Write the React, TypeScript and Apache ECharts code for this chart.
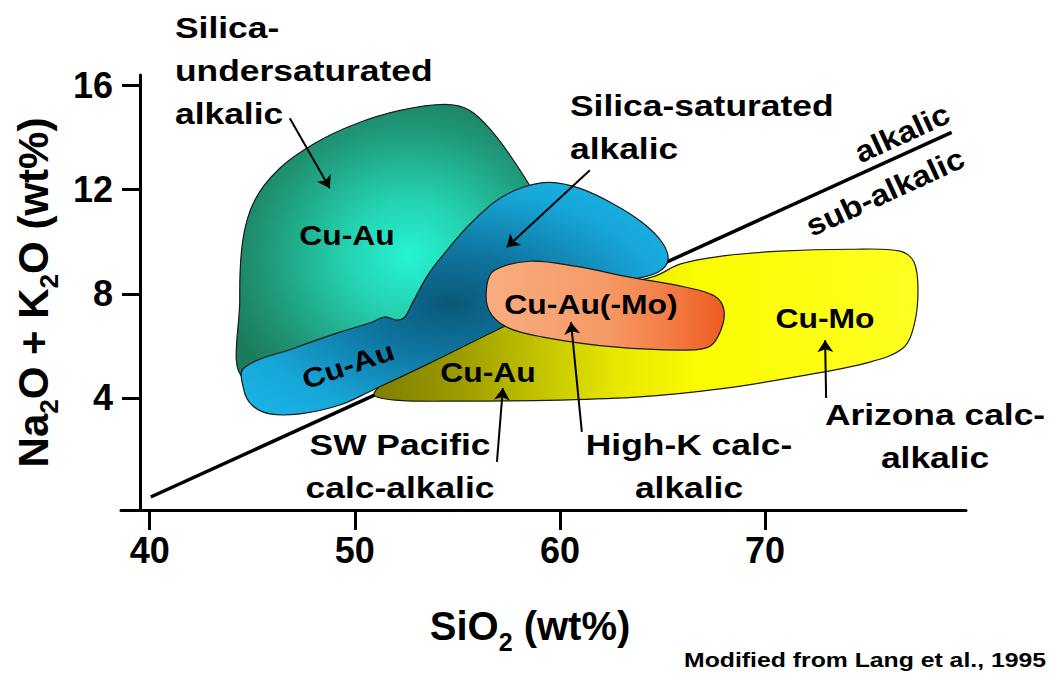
import React, { useEffect, useRef } from "react";
import * as echarts from "echarts";

// ---- axis ticks ----
const xTicks = [40, 50, 60, 70];
const yTicks = [4, 8, 12, 16];

// ---- region outlines (SiO2 wt%, Na2O+K2O wt%) ----
const silicaUndersaturated: number[][] = [
  [44.59, 4.77], [44.39, 7.76], [44.54, 10.06], [45.12, 11.59], [46.34, 12.82],
  [48.05, 13.78], [50.0, 14.51], [52.2, 15.04], [54.39, 15.27], [55.61, 15.04],
  [56.73, 14.2], [57.8, 13.05], [58.78, 11.78], [59.27, 10.63], [57.07, 8.14],
  [53.17, 6.61], [48.78, 5.76],
];
const silicaSaturated: number[][] = [
  [44.59, 5.15], [47.07, 5.92], [49.27, 6.53], [50.83, 6.91], [51.46, 7.11],
  [52.05, 6.99], [52.44, 7.11], [52.83, 7.68], [53.56, 8.72], [54.49, 9.67],
  [55.61, 10.67], [56.93, 11.59], [58.2, 12.09], [59.51, 12.28], [60.98, 12.05],
  [62.54, 11.48], [64.0, 10.75], [64.98, 9.98], [65.27, 9.29], [64.78, 8.83],
  [63.41, 8.52], [60.0, 7.76], [56.93, 6.61], [53.66, 5.34], [50.88, 4.31],
  [49.27, 3.73], [47.32, 3.39], [45.85, 3.39], [44.98, 3.73], [44.59, 4.31],
];
const calcAlkalic: number[][] = [
  [64.63, 8.68], [65.85, 9.14], [67.8, 9.44], [70.73, 9.64], [74.15, 9.71],
  [76.59, 9.64], [77.27, 9.21], [77.46, 8.14], [77.27, 6.8], [76.73, 5.92],
  [75.12, 5.38], [71.71, 4.84], [67.8, 4.35], [63.9, 4.04], [60.0, 3.92],
  [55.12, 3.88], [51.95, 3.92], [50.93, 4.15], [52.2, 5.0], [56.1, 6.42],
  [60.98, 7.95],
];
const highKCalcAlkalic: number[][] = [
  [56.44, 8.33], [56.83, 8.91], [58.54, 9.25], [60.73, 9.06], [63.41, 8.64],
  [66.1, 8.26], [67.56, 7.91], [68.0, 7.37], [67.85, 6.61], [67.32, 5.99],
  [66.15, 5.84], [62.63, 5.96], [59.17, 6.34], [57.41, 6.72], [56.54, 7.37],
];

// alkalic / sub-alkalic divide
const divider: number[][] = [[40.05, 0.2], [79.1, 14.2]];

// annotation arrows [from, to]
const arrows: number[][][] = [
  [[46.83, 14.74], [48.78, 12.05]],
  [[61.46, 12.74], [57.41, 9.79]],
  [[56.93, 1.55], [57.22, 4.38]],
  [[61.07, 2.7], [60.54, 6.91]],
  [[72.98, 4.0], [72.93, 6.22]],
];

const FONT = '"Liberation Sans", Arial, Helvetica, sans-serif';

function region(name: string, pts: number[][], fill: any) {
  return {
    type: "custom",
    name,
    coordinateSystem: "cartesian2d",
    silent: true,
    clip: false,
    data: pts,
    encode: { x: 0, y: 1 },
    z: 3,
    renderItem: (params: any, api: any) => {
      if (params.dataIndex !== 0) return null;
      const points = pts.map((p) => api.coord(p));
      return {
        type: "polygon",
        shape: { points, smooth: 0.35 },
        style: { fill, stroke: "#1a1a1a", lineWidth: 1.2 },
      };
    },
  };
}

function txt(
  text: string,
  x: number,
  y: number,
  opts: { size?: number; align?: string; va?: string; rot?: number; sx?: number; lh?: number } = {}
) {
  const align = opts.align || "left";
  const va = opts.va || "middle";
  return {
    type: "text",
    x,
    y,
    rotation: opts.rot || 0,
    scaleX: opts.sx == null ? 1.18 : opts.sx,
    z: 100,
    silent: true,
    style: {
      text,
      fill: "#000",
      fontSize: opts.size || 30,
      fontWeight: "bold",
      fontFamily: FONT,
      align,
      textAlign: align,
      verticalAlign: va,
      textVerticalAlign: va,
      lineHeight: opts.lh || 43,
    },
  };
}

export default function App() {
  const ref = useRef<HTMLDivElement>(null);
  useEffect(() => {
    if (!ref.current) return;
    const chart = echarts.init(ref.current, undefined, { renderer: "svg" });
    const option: any = {
      animation: false,
      backgroundColor: "#ffffff",
      grid: { left: 121, top: 75, width: 845, height: 435, outerBoundsMode: "none", containLabel: false },
      xAxis: {
        type: "value",
        min: 38.6,
        max: 79.8,
        name: "{a|SiO}{s|2}{a| (wt%)}",
        nameLocation: "middle",
        nameGap: 88,
        nameTextStyle: {
          padding: [0, 27, 0, 0],
          rich: {
            a: { fontSize: 40, fontWeight: "bold", fontFamily: FONT, color: "#000", lineHeight: 56 },
            s: { fontSize: 25, fontWeight: "bold", fontFamily: FONT, color: "#000", lineHeight: 25, verticalAlign: "bottom" },
          },
        },
        axisLine: { onZero: false, lineStyle: { color: "#000", width: 3 } },
        axisTick: { customValues: xTicks, length: 20, lineStyle: { color: "#000", width: 3 } },
        axisLabel: {
          customValues: xTicks,
          margin: 22,
          fontSize: 36,
          fontWeight: "bold",
          fontFamily: FONT,
          color: "#000",
        },
        splitLine: { show: false },
      },
      yAxis: {
        type: "value",
        min: -0.3,
        max: 16.4,
        offset: -19,
        name: "{a|Na}{s|2}{a|O + K}{s|2}{a|O (wt%)}",
        nameLocation: "middle",
        nameRotate: 90,
        nameGap: 78,
        nameTextStyle: {
          rich: {
            a: { fontSize: 42, fontWeight: "bold", fontFamily: FONT, color: "#000", lineHeight: 58 },
            s: { fontSize: 26, fontWeight: "bold", fontFamily: FONT, color: "#000", lineHeight: 26, verticalAlign: "bottom" },
          },
        },
        axisLine: { onZero: false, lineStyle: { color: "#000", width: 3 } },
        axisTick: { customValues: yTicks, length: 18, lineStyle: { color: "#000", width: 3 } },
        axisLabel: {
          customValues: yTicks,
          margin: 27,
          fontSize: 36,
          fontWeight: "bold",
          fontFamily: FONT,
          color: "#000",
        },
        splitLine: { show: false },
      },
      series: [
        {
          type: "line",
          name: "alkalic / sub-alkalic",
          data: divider,
          symbol: "none",
          silent: true,
          z: 1,
          lineStyle: { color: "#000", width: 3.5 },
        },
        region("Silica-undersaturated alkalic", silicaUndersaturated, {
          type: "radial", x: 0.56, y: 0.55, r: 0.62,
          colorStops: [
            { offset: 0, color: "#26f4d4" },
            { offset: 0.35, color: "#24d0ae" },
            { offset: 0.75, color: "#1f9878" },
            { offset: 1, color: "#1b7c5d" },
          ],
        }),
        region("Calc-alkalic", calcAlkalic, {
          type: "linear", x: 0, y: 0, x2: 1, y2: 0,
          colorStops: [
            { offset: 0, color: "#7f7f00" },
            { offset: 0.15, color: "#9a9a00" },
            { offset: 0.3, color: "#c2c200" },
            { offset: 0.45, color: "#e8e800" },
            { offset: 0.6, color: "#fbfb00" },
            { offset: 1, color: "#ffff22" },
          ],
        }),
        region("Silica-saturated alkalic", silicaSaturated, {
          type: "radial", x: 0.49, y: 0.52, r: 0.75,
          colorStops: [
            { offset: 0, color: "#0a5878" },
            { offset: 0.3, color: "#0f76a0" },
            { offset: 0.65, color: "#17a6d8" },
            { offset: 1, color: "#1bbcef" },
          ],
        }),
        region("High-K calc-alkalic", highKCalcAlkalic, {
          type: "linear", x: 0, y: 0, x2: 1, y2: 0,
          colorStops: [
            { offset: 0, color: "#f8ad80" },
            { offset: 0.5, color: "#f59a66" },
            { offset: 0.8, color: "#f37840" },
            { offset: 1, color: "#ee5a20" },
          ],
        }),
        {
          type: "lines",
          name: "arrows",
          coordinateSystem: "cartesian2d",
          silent: true,
          z: 5,
          symbol: ["none", "arrow"],
          symbolSize: 12,
          lineStyle: { color: "#000", width: 2, opacity: 1, curveness: 0 },
          data: arrows.map((c) => ({ coords: c })),
        },
      ],
      graphic: [
        txt("Silica-\nundersaturated\nalkalic", 175, 6, { va: "top" }),
        txt("Silica-saturated\nalkalic", 570, 84, { va: "top" }),
        txt("SW Pacific\ncalc-alkalic", 400, 423, { va: "top", align: "center" }),
        txt("High-K calc-\nalkalic", 689, 423, { va: "top", align: "center" }),
        txt("Arizona calc-\nalkalic", 935, 393, { va: "top", align: "center" }),
        txt("alkalic", 902, 133, { align: "center", rot: 0.43, sx: 1.1 }),
        txt("sub-alkalic", 885, 192, { align: "center", rot: 0.43, sx: 1.1 }),
        txt("Cu-Au", 347, 235, { size: 27, align: "center" }),
        txt("Cu-Au", 348, 365, { size: 27, align: "center", rot: 0.33 }),
        txt("Cu-Au", 488, 372, { size: 27, align: "center" }),
        txt("Cu-Au(-Mo)", 591, 304, { size: 27, align: "center" }),
        txt("Cu-Mo", 825, 318, { size: 27, align: "center" }),
        txt("Modified from Lang et al., 1995", 1046, 660, { size: 21, align: "right" }),
      ],
    };
    chart.setOption(option);
    return () => chart.dispose();
  }, []);
  return (
    <div
      ref={ref}
      style={{ position: "absolute", left: 0, top: 0, width: 1054, height: 673, background: "#fff" }}
    />
  );
}
